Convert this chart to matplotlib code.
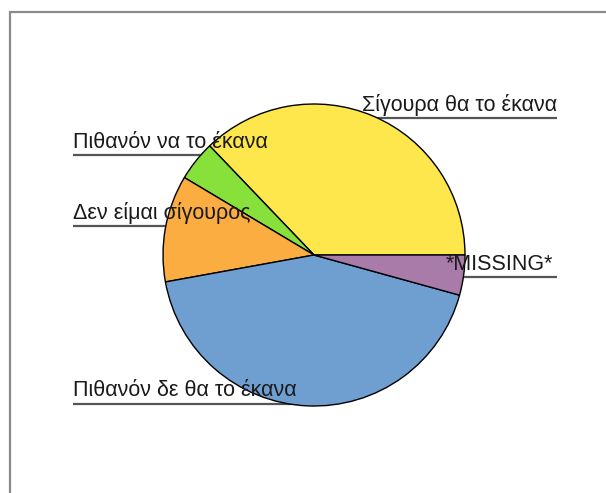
import matplotlib.pyplot as plt
from matplotlib.patches import Rectangle

answers = ["Σίγουρα θα το έκανα", "Πιθανόν να το έκανα", "Δεν είμαι σίγουρος",
           "Πιθανόν δε θα το έκανα", "*MISSING*"]
counts = [26, 3, 8, 30, 3]
colors = ["#fde74c", "#87e13a", "#fbad41", "#6f9ed0", "#a97ba8"]

# label text position (x, y in pixels from top), side of the pie
label_pos = [(362, 105, "right"), (73, 142, "left"), (73, 213, "left"),
             (73, 391, "left"), (446, 264, "right")]

W, H = 606, 493
fig = plt.figure(figsize=(W / 100, H / 100), dpi=100)
ax = fig.add_axes([0, 0, 1, 1])

cx, cy, r = 314, H - 255, 151

wedges, _ = ax.pie(counts, colors=colors, startangle=0, counterclock=True,
                   center=(cx, cy), radius=r,
                   wedgeprops=dict(edgecolor="black", linewidth=1.0))
for w in wedges:
    w.set_zorder(2)

# pie() resets the limits, so set them afterwards
ax.set_xlim(0, W)
ax.set_ylim(0, H)
ax.set_aspect("equal")
ax.axis("off")

# outer frame
ax.add_patch(Rectangle((10, -20), 700, H - 12 + 20, fill=False,
                       edgecolor="#8a8a8a", linewidth=1.6, zorder=0))

# underlines go behind the pie
for (x, y, side), lab in zip(label_pos, answers):
    ly = H - y - 13
    if side == "left":
        ax.plot([x, cx], [ly, ly], color="#555555", lw=1.6, zorder=1,
                solid_capstyle="butt")
    else:
        ax.plot([cx, 557], [ly, ly], color="#555555", lw=1.6, zorder=1,
                solid_capstyle="butt")

for (x, y, side), lab in zip(label_pos, answers):
    ax.text(x, H - y, lab, fontsize=15.5, color="#1a1a1a", family="Liberation Sans",
            ha="left", va="center", zorder=3)

fig.savefig("out.png", dpi=100)
